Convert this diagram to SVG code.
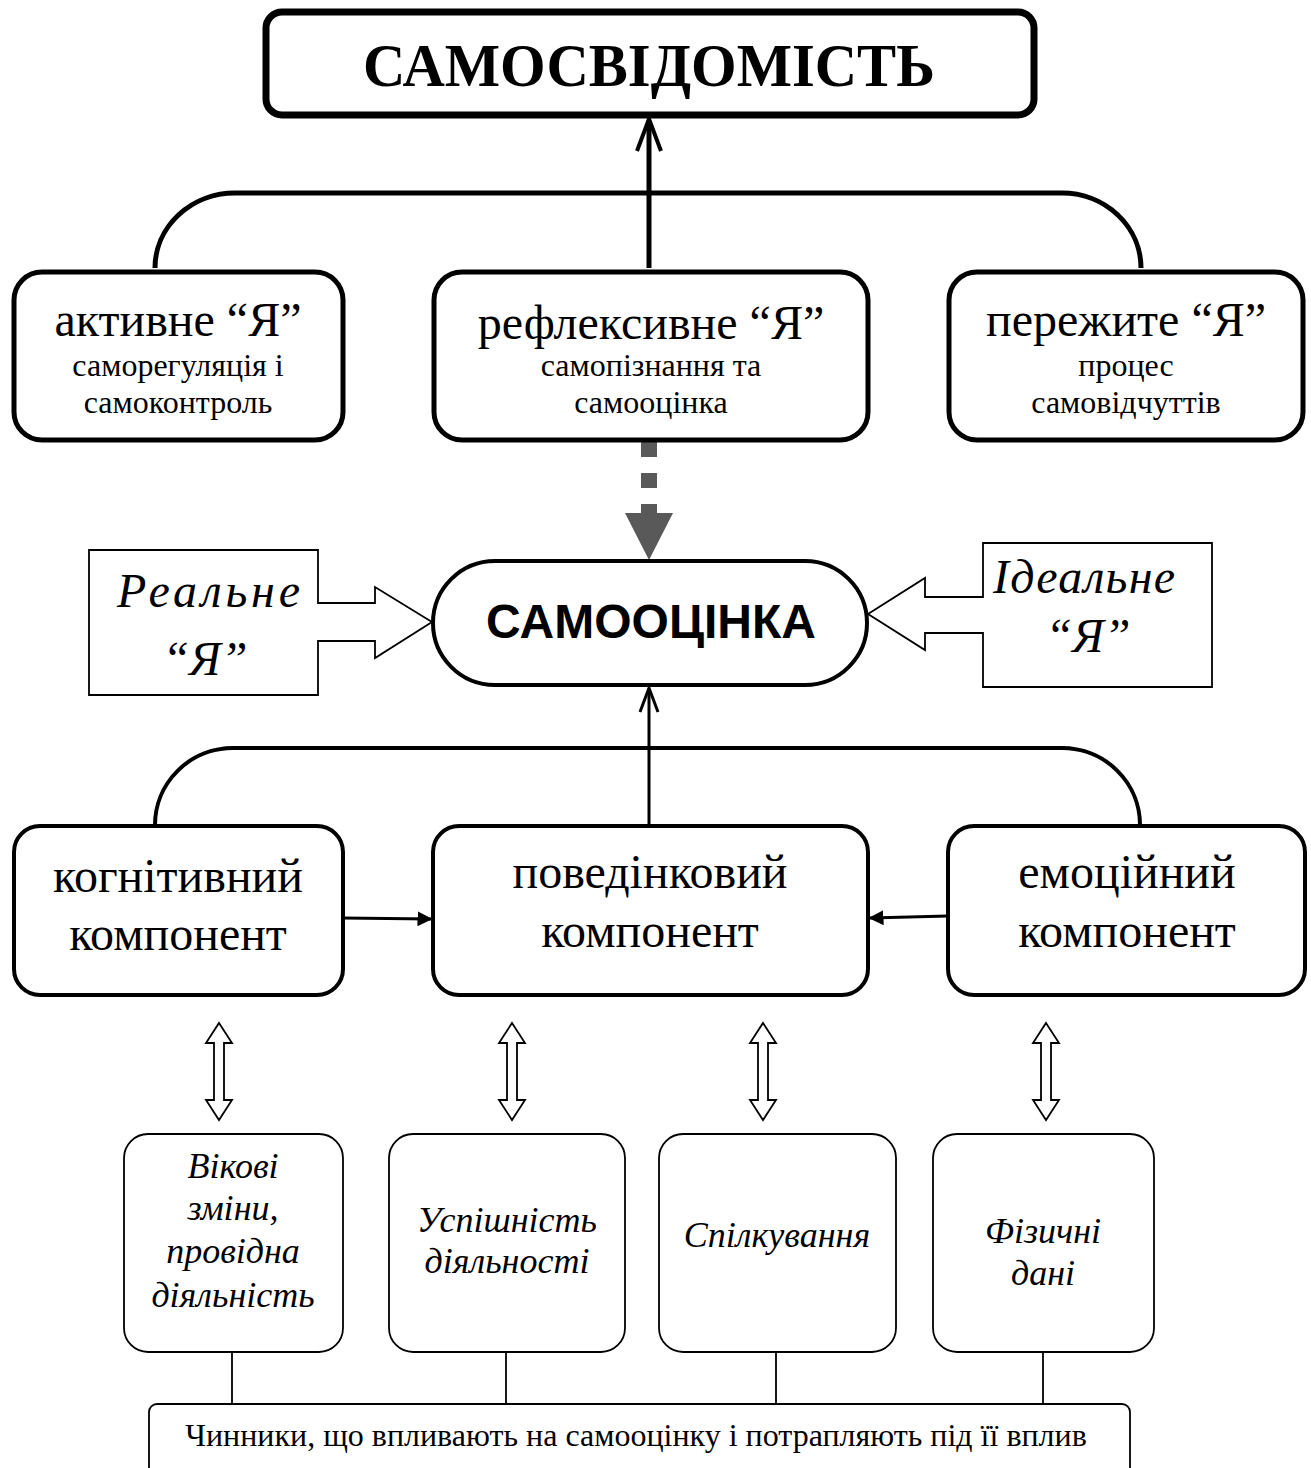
<svg xmlns="http://www.w3.org/2000/svg" width="1311" height="1468" viewBox="0 0 1311 1468">
<style>
.serif{font-family:"Liberation Serif","Times New Roman",serif;fill:#000}
.sans{font-family:"Liberation Sans",Arial,sans-serif;fill:#000}
.it{font-style:italic}
.box{fill:#fff;stroke:#000}
.thick{stroke-width:7}
.med{stroke-width:5}
.m4{stroke-width:4}
.thin{stroke-width:1.8}
.line{fill:none;stroke:#000}
.main{font-size:48px;text-anchor:middle}
.sub{font-size:32px;text-anchor:middle}
.comp{font-size:48px;text-anchor:middle}
.fac{font-size:36px;text-anchor:middle}
</style>
<defs>
<marker id="fillArrow" viewBox="0 0 10 10" refX="9" refY="5" markerWidth="5" markerHeight="5" orient="auto" markerUnits="strokeWidth">
<path d="M0,0 L10,5 L0,10 Z" fill="#000"/>
</marker>
</defs>

<g id="connectors">
<path class="line med" d="M155,268 A80,75 0 0 1 235,193 L1062,193 A79,75 0 0 1 1141,268"/>
<line class="line med" x1="649" y1="268" x2="649" y2="121"/>
<polyline class="line" stroke-width="4" points="637,151 649,119 661,151" stroke-linejoin="miter"/>
<line x1="649" y1="442" x2="649" y2="514" stroke="#595959" stroke-width="16" stroke-dasharray="15 16"/>
<polygon points="625,513 673,513 649,560" fill="#595959"/>
<path class="line m4" d="M155,825 A78,77 0 0 1 233,748 L1062,748 A78,77 0 0 1 1140,825"/>
<line class="line" stroke-width="3" x1="649" y1="825" x2="649" y2="690"/>
<polyline class="line" stroke-width="3" points="640,712 649,688 658,712"/>
<line class="line" stroke-width="3" x1="343" y1="918" x2="431" y2="919" marker-end="url(#fillArrow)"/>
<line class="line" stroke-width="3" x1="948" y1="916" x2="870" y2="918" marker-end="url(#fillArrow)"/>
<g class="box thin" stroke-linejoin="miter">
<path d="M219,1023 L232,1043 L224,1043 L224,1100 L232,1100 L219,1120 L206,1100 L214,1100 L214,1043 L206,1043 Z"/>
<path d="M512,1023 L525,1043 L517,1043 L517,1100 L525,1100 L512,1120 L499,1100 L507,1100 L507,1043 L499,1043 Z"/>
<path d="M763,1023 L776,1043 L768,1043 L768,1100 L776,1100 L763,1120 L750,1100 L758,1100 L758,1043 L750,1043 Z"/>
<path d="M1046,1023 L1059,1043 L1051,1043 L1051,1100 L1059,1100 L1046,1120 L1033,1100 L1041,1100 L1041,1043 L1033,1043 Z"/>
</g>
<g class="line thin">
<line x1="232" y1="1352" x2="232" y2="1404"/>
<line x1="506" y1="1352" x2="506" y2="1404"/>
<line x1="776" y1="1352" x2="776" y2="1404"/>
<line x1="1043" y1="1352" x2="1043" y2="1404"/>
</g>
</g>

<g id="samosvidomist">
<rect class="box thick" x="266" y="12" width="768" height="103" rx="16"/>
<text class="serif" x="649" y="86" font-size="62" font-weight="bold" text-anchor="middle" textLength="572" lengthAdjust="spacingAndGlyphs">САМОСВІДОМІСТЬ</text>
</g>

<g id="active-ya">
<rect class="box med" x="14" y="272" width="329" height="168" rx="28"/>
<text class="serif main" x="178" y="336">активне “Я”</text>
<text class="serif sub" x="178" y="376">саморегуляція і</text>
<text class="serif sub" x="178" y="413">самоконтроль</text>
</g>

<g id="reflexive-ya">
<rect class="box med" x="434" y="272" width="434" height="168" rx="28"/>
<text class="serif main" x="651" y="339">рефлексивне “Я”</text>
<text class="serif sub" x="651" y="376">самопізнання та</text>
<text class="serif sub" x="651" y="413">самооцінка</text>
</g>

<g id="lived-ya">
<rect class="box med" x="949" y="272" width="354" height="168" rx="28"/>
<text class="serif main" x="1126" y="336">пережите “Я”</text>
<text class="serif sub" x="1126" y="376">процес</text>
<text class="serif sub" x="1126" y="413">самовідчуттів</text>
</g>

<g id="real-ya">
<path class="line thin" d="M318,603 L318,550 L89,550 L89,695 L318,695 L318,641 L375,641 L375,658 L432,622 L375,587 L375,603 Z" style="fill:#fff"/>
<text class="serif it" x="117" y="607" font-size="48" textLength="183" lengthAdjust="spacing">Реальне</text>
<text class="serif it" x="205" y="675" font-size="48" text-anchor="middle">“Я”</text>
</g>

<g id="ideal-ya">
<path class="line thin" d="M983,597 L983,543 L1212,543 L1212,687 L983,687 L983,633 L925,633 L925,650 L868,614 L925,578 L925,597 Z" style="fill:#fff"/>
<text class="serif it" x="993" y="593" font-size="48" textLength="182" lengthAdjust="spacing">Ідеальне</text>
<text class="serif it" x="1088" y="652" font-size="48" text-anchor="middle">“Я”</text>
</g>

<g id="samootsinka">
<rect class="box m4" x="433" y="561" width="434" height="124" rx="62"/>
<text class="sans" x="651" y="638" font-size="48" font-weight="bold" text-anchor="middle">САМООЦІНКА</text>
</g>

<g id="cognitive">
<rect class="box m4" x="14" y="826" width="329" height="169" rx="26"/>
<text class="serif comp" x="178" y="892">когнітивний</text>
<text class="serif comp" x="178" y="950">компонент</text>
</g>

<g id="behavioral">
<rect class="box m4" x="433" y="826" width="435" height="169" rx="26"/>
<text class="serif comp" x="650" y="888">поведінковий</text>
<text class="serif comp" x="650" y="947">компонент</text>
</g>

<g id="emotional">
<rect class="box m4" x="948" y="826" width="357" height="169" rx="26"/>
<text class="serif comp" x="1127" y="888">емоційний</text>
<text class="serif comp" x="1127" y="947">компонент</text>
</g>

<g id="age">
<rect class="box thin" x="124" y="1134" width="219" height="218" rx="24"/>
<text class="serif it fac" x="233" y="1178">Вікові</text>
<text class="serif it fac" x="233" y="1220">зміни,</text>
<text class="serif it fac" x="233" y="1263">провідна</text>
<text class="serif it fac" x="233" y="1307">діяльність</text>
</g>

<g id="success">
<rect class="box thin" x="389" y="1134" width="236" height="218" rx="24"/>
<text class="serif it fac" x="507" y="1232">Успішність</text>
<text class="serif it fac" x="507" y="1273">діяльності</text>
</g>

<g id="communication">
<rect class="box thin" x="659" y="1134" width="237" height="218" rx="24"/>
<text class="serif it fac" x="777" y="1247">Спілкування</text>
</g>

<g id="physical">
<rect class="box thin" x="933" y="1134" width="221" height="218" rx="24"/>
<text class="serif it fac" x="1043" y="1243">Фізичні</text>
<text class="serif it fac" x="1043" y="1285">дані</text>
</g>

<g id="factors">
<rect class="box thin" x="149" y="1404" width="981" height="90" rx="8"/>
<text class="serif" x="636" y="1446" font-size="32" text-anchor="middle">Чинники, що впливають на самооцінку і потрапляють під її вплив</text>
</g>
</svg>
